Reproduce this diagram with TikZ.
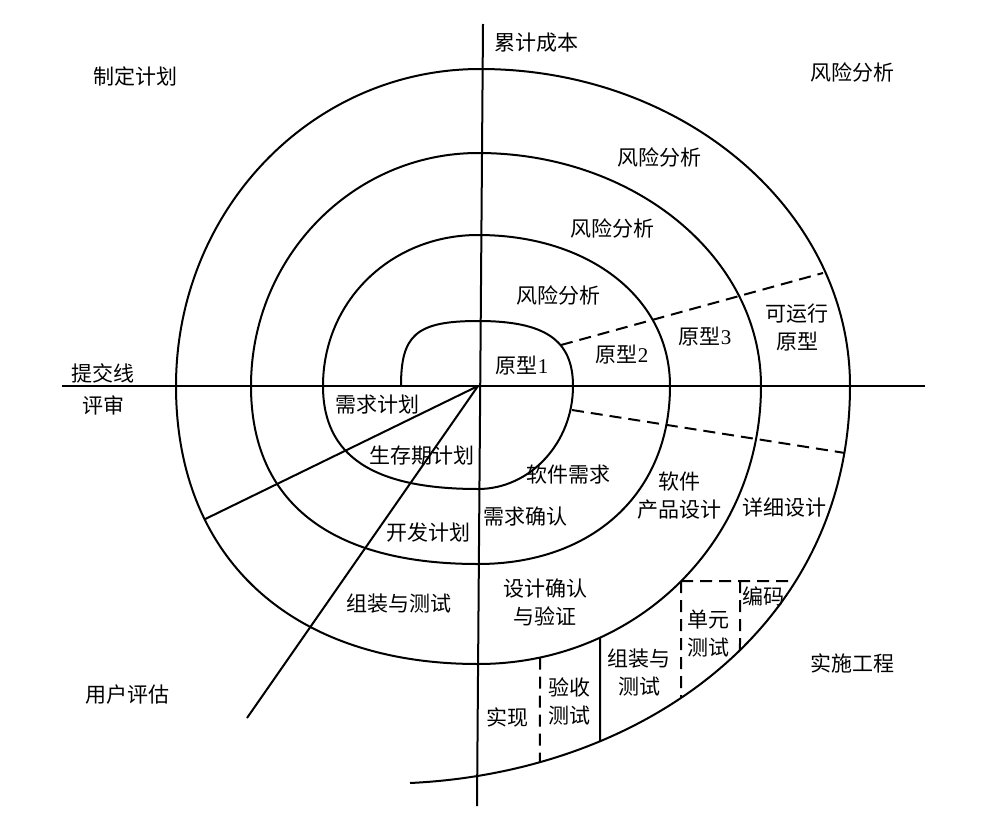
\documentclass[tikz,border=0pt]{standalone}
\usepackage{fontspec}
\newfontfamily\cjk{Noto Sans CJK SC}
\newfontfamily\lat{Liberation Serif}
\usetikzlibrary{intersections}
\begin{document}
\begin{tikzpicture}[x=1pt,y=-1pt,line width=2pt,
  lbl/.style={font=\cjk\fontsize{21}{28}\selectfont,align=center,inner sep=0pt},
  dsh/.style={dash pattern=on 12pt off 7pt}]
\useasboundingbox (0,0) rectangle (996,822);
\fill[white] (0,0) rectangle (996,822);
% axes
\coordinate (O) at (478,386);
\coordinate (vt) at (483,24);
\coordinate (vb) at (477,806);
\coordinate (hl) at (62,386);
\coordinate (hr) at (925,386);
\draw (vt) -- (vb);
\draw (hl) -- (hr);
% spiral
\draw (401,386) .. controls (401,335) and (416,321) .. (478,321)
  .. controls (545,321) and (573,340) .. (573,386)
  .. controls (573,443) and (530,489) .. (478,489)
  .. controls (373,489) and (323,456) .. (323,386)
  .. controls (323,301) and (391,235) .. (478,235)
  .. controls (589,235) and (670,298) .. (670,386)
  .. controls (670,493) and (593,564) .. (478,564)
  .. controls (330,564) and (251,502) .. (251,386)
  .. controls (251,257) and (353,153) .. (478,153)
  .. controls (634,153) and (761,257) .. (761,386)
  .. controls (761,542) and (636,664) .. (478,664)
  .. controls (291,664) and (176,558) .. (176,386)
  .. controls (176,211) and (311,69) .. (480,69)
  .. controls (684,69) and (850,211) .. (850,386)
  .. controls (850,625) and (645,772) .. (410,783);
% helper paths
\path[name path=q11] (761,386) .. controls (761,542) and (636,664) .. (478,664);
\path[name path=q12] (478,664) .. controls (291,664) and (176,558) .. (176,386);
\path[name path=q15] (850,386) .. controls (850,625) and (645,772) .. (410,783);
\path[name path=d1] (O) -- (152,545);
\path[name intersections={of=q12 and d1,by={d1e}}];
\coordinate (d2e) at (247,718);
\draw (O) -- (d1e);
\draw (O) -- (d2e);
% dashed radial lines
\coordinate (ua) at (561,345);
\coordinate (ub) at (823,273);
\coordinate (la) at (572,410);
\coordinate (lb) at (845,453);
\draw[dsh] (ua) -- (ub);
\draw[dsh] (la) -- (lb);
% lower-right partitions
\path[name path=v600] (600,560) -- (600,800);
\path[name path=v540] (540,560) -- (540,800);
\path[name path=h581] (640,581) -- (900,581);
\path[name path=v740] (740,560) -- (740,800);
\path[name intersections={of=q11 and v600,by={a600}}];
\path[name intersections={of=q15 and v600,by={b600}}];
\path[name intersections={of=q11 and v540,by={a540}}];
\path[name intersections={of=q15 and v540,by={b540}}];
\path[name intersections={of=q11 and h581,by={cl}}];
\path[name intersections={of=q15 and h581,by={cr}}];
\path[name intersections={of=q15 and v740,by={b740}}];
\path[name path=vcl] (cl) -- ++(0,200);
\path[name intersections={of=q15 and vcl,by={bcl}}];
\coordinate (t740) at (740,581);
\draw (a600) -- (b600);
\draw[dsh] (a540) -- (b540);
\draw[dsh] (cl) -- (cr);
\draw[dsh] (cl) -- (bcl);
\draw[dsh] (t740) -- (b740);
% labels
\node[lbl] (cost) at (536,43) {累计成本};
\node[lbl] (plan) at (135,76) {制定计划};
\node[lbl] (risk0) at (852,72) {风险分析};
\node[lbl] (risk3) at (659,157) {风险分析};
\node[lbl] (risk2) at (612,228) {风险分析};
\node[lbl] (risk1) at (558,295) {风险分析};
\node[lbl] (p1) at (522,366) {原型{\lat 1}};
\node[lbl] (p2) at (622,355) {原型{\lat 2}};
\node[lbl] (p3) at (705,337) {原型{\lat 3}};
\node[lbl] (prun) at (797,327) {可运行\\原型};
\node[lbl] (submit) at (103,373) {提交线};
\node[lbl] (review) at (103,405) {评审};
\node[lbl] (reqplan) at (377,405) {需求计划};
\node[lbl] (lifeplan) at (422,456) {生存期计划};
\node[lbl] (devplan) at (428,533) {开发计划};
\node[lbl] (asm1) at (399,604) {组装与测试};
\node[lbl] (swreq) at (568,475) {软件需求};
\node[lbl] (reqconf) at (525,517) {需求确认};
\node[lbl] (prod) at (679,496) {软件\\产品设计};
\node[lbl] (detail) at (784,508) {详细设计};
\node[lbl] (dv) at (545,602) {设计确认\\与验证};
\node[lbl] (impl) at (507,717) {实现};
\node[lbl] (accept) at (569,701) {验收\\测试};
\node[lbl] (asm2) at (639,672) {组装与\\测试};
\node[lbl] (unit) at (708,634) {单元\\测试};
\node[lbl] (code) at (763,596) {编码};
\node[lbl] (impleng) at (852,663) {实施工程};
\node[lbl] (user) at (127,695) {用户评估};
\end{tikzpicture}
\end{document}
